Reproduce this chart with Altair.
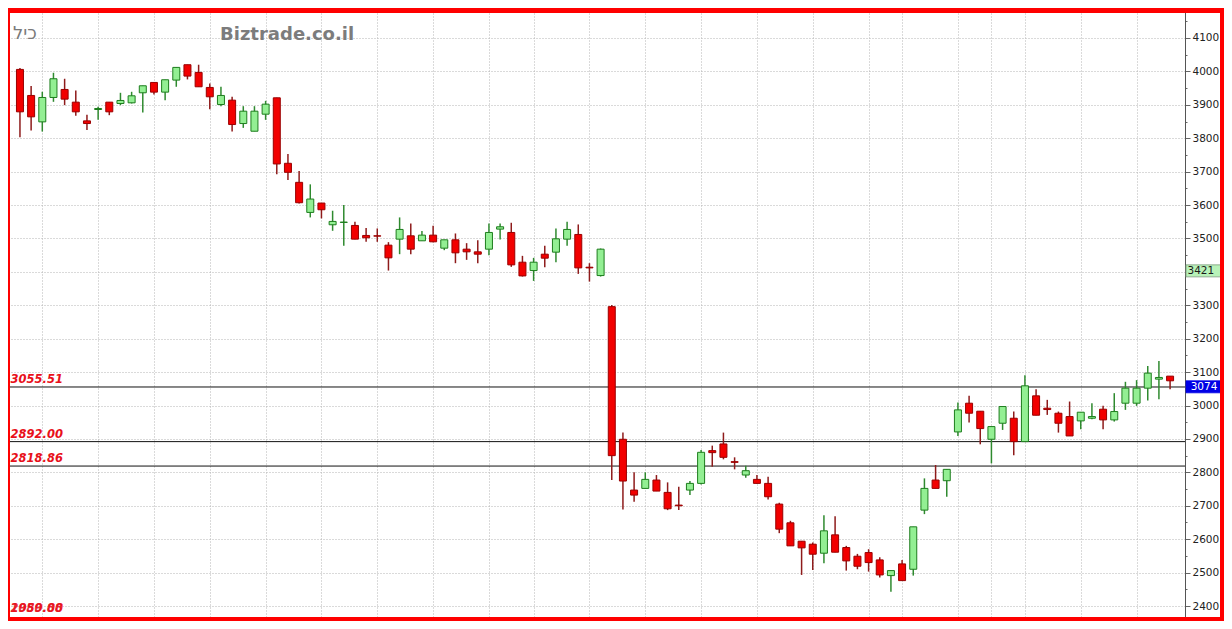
import altair as alt
import pandas as pd

# ---------------- data ----------------
OPEN = [4006, 3928, 3849, 3922, 3946, 3908, 3852, 3886, 3908, 3904,
        3906, 3936, 3967, 3938, 3974, 4020, 3997, 3952, 3901, 3914,
        3844, 3821, 3872, 3921, 3725, 3668, 3578, 3606, 3541, 3548,
        3539, 3509, 3508, 3480, 3498, 3508, 3493, 3510, 3471, 3496,
        3468, 3460, 3468, 3528, 3518, 3429, 3404, 3453, 3459, 3498,
        3512, 3414, 3389, 3296, 2899, 2747, 2752, 2777, 2740, 2702,
        2747, 2767, 2865, 2885, 2832, 2792, 2779, 2767, 2705, 2649,
        2594, 2585, 2558, 2613, 2575, 2549, 2560, 2538, 2491, 2526,
        2510, 2687, 2777, 2775, 2921, 3007, 2983, 2899, 2947, 2962,
        2892, 3029, 2992, 2977, 2967, 2954, 2962, 2989, 2957, 3007,
        3007, 3052, 3079, 3088]
HIGH = [4010, 3956, 3939, 3996, 3978, 3943, 3870, 3894, 3908, 3936,
        3939, 3957, 3967, 3975, 4012, 4020, 4020, 3964, 3954, 3924,
        3896, 3896, 3912, 3921, 3753, 3702, 3662, 3606, 3583, 3600,
        3550, 3531, 3530, 3489, 3563, 3545, 3522, 3538, 3496, 3515,
        3486, 3495, 3545, 3545, 3547, 3448, 3442, 3478, 3530, 3550,
        3542, 3426, 3470, 3301, 2919, 2800, 2800, 2792, 2770, 2757,
        2774, 2867, 2880, 2919, 2845, 2820, 2792, 2787, 2709, 2655,
        2594, 2590, 2672, 2669, 2580, 2556, 2570, 2546, 2506, 2538,
        2637, 2782, 2822, 2809, 3009, 3029, 2983, 2937, 2997, 2982,
        3091, 3049, 3017, 2982, 3012, 2980, 3007, 2999, 3037, 3071,
        3076, 3118, 3133, 3088]
LOW = [3803, 3823, 3820, 3909, 3899, 3867, 3825, 3855, 3869, 3899,
       3904, 3877, 3931, 3914, 3954, 3976, 3954, 3887, 3896, 3820,
       3831, 3821, 3855, 3692, 3675, 3605, 3563, 3560, 3523, 3478,
       3498, 3490, 3490, 3404, 3453, 3453, 3493, 3489, 3465, 3426,
       3436, 3426, 3450, 3497, 3415, 3386, 3373, 3414, 3429, 3478,
       3394, 3371, 3386, 2777, 2689, 2712, 2752, 2744, 2687, 2687,
       2732, 2764, 2817, 2839, 2809, 2784, 2767, 2719, 2618, 2580,
       2493, 2508, 2528, 2561, 2506, 2510, 2503, 2485, 2443, 2476,
       2491, 2675, 2752, 2727, 2909, 2949, 2884, 2827, 2927, 2851,
       2892, 2971, 2972, 2919, 2909, 2929, 2959, 2929, 2952, 2987,
       2999, 3015, 3019, 3049]
CLOSE = [3879, 3864, 3922, 3978, 3917, 3879, 3844, 3889, 3879, 3913,
         3927, 3957, 3938, 3975, 4012, 3986, 3954, 3924, 3928, 3841,
         3881, 3881, 3902, 3723, 3698, 3607, 3618, 3586, 3551, 3549,
         3498, 3502, 3507, 3442, 3527, 3468, 3510, 3490, 3496, 3457,
         3460, 3453, 3518, 3535, 3421, 3388, 3429, 3441, 3499, 3527,
         3412, 3412, 3468, 2850, 2774, 2732, 2779, 2744, 2691, 2700,
         2767, 2860, 2859, 2845, 2830, 2805, 2767, 2727, 2630, 2580,
         2574, 2555, 2625, 2561, 2535, 2519, 2530, 2493, 2506, 2476,
         2637, 2752, 2752, 2809, 2987, 2977, 2931, 2937, 2997, 2892,
         3059, 2971, 2988, 2947, 2909, 2980, 2967, 2957, 2982, 3052,
         3052, 3097, 3084, 3074]

GRID_IDX = [2, 7, 12, 17, 22, 27, 32, 37, 42, 46, 51, 56, 61, 66, 71,
            76, 79, 84, 87, 90, 95, 100]
Y_TICKS = [2400, 2450, 2500, 2550, 2600, 2650, 2700, 2750, 2800, 2850,
           2900, 2950, 3000, 3050, 3100, 3150, 3200, 3250, 3300, 3350,
           3400, 3450, 3500, 3550, 3600, 3650, 3700, 3750, 3800, 3850,
           3900, 3950, 4000, 4050, 4100, 4150]
HIDDEN_TICK_LABELS = [3400]   # covered by the 3421 tag in the reference

LEVELS = [3055.51, 2892.00, 2818.86]
LEVEL_LABELS = ["3055.51", "2892.00", "2818.86"]
OFFSCALE_LABELS = ["2080.00", "1959.88"]
TAG_GREEN = [3421]
TAG_BLUE = [3074]
TICKER = ["כיל"]
WATERMARK = ["Biztrade.co.il"]

# ---------------- layout / style ----------------
PLOT_W, PLOT_H = 1175, 607
Y_DOMAIN = [2367.1, 4183.8]
X_DOMAIN = [-0.444, 103.888]
PX_PER_UNIT = PLOT_H / (Y_DOMAIN[1] - Y_DOMAIN[0])
TAG_H = 12

RED_FILL, RED_EDGE, RED_WICK = "#f20000", "#9a0000", "#8e1b1b"
GRN_FILL, GRN_EDGE, GRN_WICK = "#93ef93", "#1d7d1d", "#2f8a2f"
FRAME = "#ff0000"
GRID = "#b4b4b4"

df = pd.DataFrame({"i": list(range(len(OPEN))), "open": OPEN, "high": HIGH,
                   "low": LOW, "close": CLOSE})
df["dir"] = ["up" if c >= o else "down" for o, c in zip(OPEN, CLOSE)]

XS = alt.Scale(domain=X_DOMAIN, nice=False, zero=False)
YS = alt.Scale(domain=Y_DOMAIN, nice=False, zero=False)

hidden = " && ".join(f"datum.value !== {v}" for v in HIDDEN_TICK_LABELS)
X_AXIS = alt.Axis(values=GRID_IDX, grid=True, labels=False, ticks=False,
                  domain=False, title=None, gridColor=GRID, gridDash=[1, 2],
                  gridWidth=1)
Y_AXIS = alt.Axis(orient="right", values=Y_TICKS, title=None, format="d",
                  labelExpr=f"(datum.value % 100 === 0 && {hidden}) ? datum.label : ''",
                  labelFont="DejaVu Sans", labelFontSize=10.5,
                  labelColor="#222222", labelPadding=2,
                  domain=True, domainColor="#555555", domainWidth=1,
                  tickColor="#666666",
                  tickSize={"condition": {"test": "datum.value % 100 === 0", "value": 5}, "value": 2},
                  grid=True, gridColor=GRID, gridDash=[1, 2],
                  gridOpacity={"condition": {"test": "datum.value % 100 === 0", "value": 1}, "value": 0})

dir_scale_wick = alt.Scale(domain=["up", "down"], range=[GRN_WICK, RED_WICK])
dir_scale_fill = alt.Scale(domain=["up", "down"], range=[GRN_FILL, RED_FILL])
dir_scale_edge = alt.Scale(domain=["up", "down"], range=[GRN_EDGE, RED_EDGE])

base = alt.Chart(df).encode(x=alt.X("i:Q", scale=XS, axis=X_AXIS))

wicks = base.mark_rule(strokeWidth=1.5).encode(
    y=alt.Y("low:Q", scale=YS, axis=Y_AXIS),
    y2="high:Q",
    color=alt.Color("dir:N", scale=dir_scale_wick, legend=None),
)
bodies = base.mark_bar(size=7, strokeWidth=1).encode(
    y=alt.Y("open:Q", scale=YS, axis=Y_AXIS),
    y2="close:Q",
    fill=alt.Fill("dir:N", scale=dir_scale_fill, legend=None),
    stroke=alt.Stroke("dir:N", scale=dir_scale_edge, legend=None),
)

lv = pd.DataFrame({"level": LEVELS, "label": LEVEL_LABELS})
level_lines = alt.Chart(lv).mark_rule(color="#111111", strokeWidth=1).encode(
    y=alt.Y("level:Q", scale=YS, axis=Y_AXIS))
level_text = alt.Chart(lv).mark_text(
    align="left", baseline="alphabetic", dy=-4, font="DejaVu Sans",
    fontSize=11.5, fontWeight="bold", fontStyle="italic", color="#e8101a"
).encode(x=alt.value(0.5), y=alt.Y("level:Q", scale=YS, axis=Y_AXIS), text="label:N")

off = pd.DataFrame({"label": OFFSCALE_LABELS})
off_text = alt.Chart(off).mark_text(
    align="left", baseline="alphabetic", font="DejaVu Sans",
    fontSize=11.5, fontWeight="bold", fontStyle="italic", color="#e8101a",
    opacity=0.85
).encode(x=alt.value(0.5), y=alt.value(602), text="label:N")


def tag_layers(values, fill, stroke, tcolor, tx, talign):
    t = pd.DataFrame({"v": values, "lbl": [str(v) for v in values]})
    t["v2"] = t["v"] - TAG_H / PX_PER_UNIT
    box = alt.Chart(t).mark_rect(fill=fill, stroke=stroke, strokeWidth=0.8).encode(
        x=alt.value(1176), x2=alt.value(1212),
        y=alt.Y("v:Q", scale=YS, axis=Y_AXIS), y2="v2:Q")
    txt = alt.Chart(t).mark_text(
        align=talign, baseline="middle", dy=TAG_H / 2, font="DejaVu Sans",
        fontSize=10.5, color=tcolor
    ).encode(x=alt.value(tx), y=alt.Y("v:Q", scale=YS, axis=Y_AXIS), text="lbl:N")
    return [box, txt]


tags = (tag_layers(TAG_GREEN, "#b8f2b8", "#7d9a7d", "#1a1a1a", 1177.5, "left")
        + tag_layers(TAG_BLUE, "#0000e6", "#0000e6", "#ffffff", 1194, "center"))

ticker = alt.Chart(pd.DataFrame({"t": TICKER})).mark_text(
    align="left", baseline="alphabetic", font="DejaVu Sans", fontSize=18,
    color="#7a7a7a").encode(x=alt.value(3), y=alt.value(28.5), text="t:N")
wm = alt.Chart(pd.DataFrame({"t": WATERMARK})).mark_text(
    align="left", baseline="alphabetic", font="DejaVu Sans", fontSize=18,
    fontWeight="bold", color="#7c7c7c").encode(x=alt.value(210), y=alt.value(29.5), text="t:N")


def band(x, x2, y, y2):
    return alt.Chart(alt.Data(values=[{"k": 1}])).mark_rect(color=FRAME).encode(
        x=alt.value(x), x2=alt.value(x2), y=alt.value(y), y2=alt.value(y2))


frame = [band(-2, 0, -2, 611), band(-2, 1214, -2, 3),
         band(1210, 1214, -2, 611), band(-2, 1214, 607, 611)]

chart = alt.layer(
    level_lines, wicks, bodies, level_text, off_text, *tags, ticker, wm, *frame
).properties(
    width=PLOT_W, height=PLOT_H,
    padding={"left": 2, "top": 2, "right": 39, "bottom": 4},
    autosize=alt.AutoSizeParams(type="none"),
    background="white",
).configure_view(stroke=None)

chart.save("out.html", embed_options={"renderer": "svg", "actions": False})
